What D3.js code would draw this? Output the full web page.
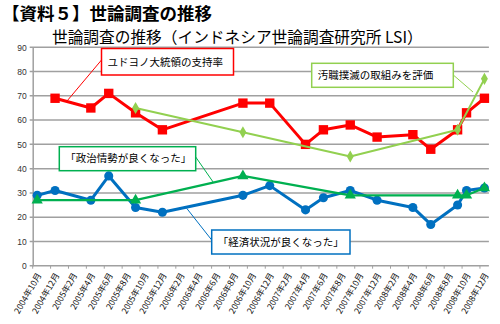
<!DOCTYPE html>
<html>
<head>
<meta charset="utf-8">
<script src="https://cdn.jsdelivr.net/npm/d3@7"></script>
<style>
  body { margin: 0; background: #fff; }
  svg { display: block; font-family: "Noto Sans CJK JP", "Noto Sans", sans-serif; }
</style>
</head>
<body>
<div id="chart"></div>
<script>
var width = 500, height = 324;

// tick labels on the x axis (every 2 months)
var tickLabels = ['2004年10月', '2004年12月', '2005年2月', '2005年4月', '2005年6月', '2005年8月',
  '2005年10月', '2005年12月', '2006年2月', '2006年4月', '2006年6月', '2006年8月', '2006年10月',
  '2006年12月', '2007年2月', '2007年4月', '2007年6月', '2007年8月', '2007年10月', '2007年12月',
  '2008年2月', '2008年4月', '2008年6月', '2008年8月', '2008年10月', '2008年12月'];

var yTicks = [0, 10, 20, 30, 40, 50, 60, 70, 80, 90];

// ユドヨノ大統領の支持率
var approvalDates = ['2004-12', '2005-04', '2005-06', '2005-09', '2005-12', '2006-09', '2006-12',
  '2007-04', '2007-06', '2007-09', '2007-12', '2008-04', '2008-06', '2008-09', '2008-10', '2008-12'];
var approvalValues = [69, 65, 71, 63, 56, 67, 67, 50, 56, 58, 53, 54, 48, 56, 63, 69];

// 「経済状況が良くなった」
var economyDates = ['2004-10', '2004-12', '2005-04', '2005-06', '2005-09', '2005-12', '2006-09', '2006-12',
  '2007-04', '2007-06', '2007-09', '2007-12', '2008-04', '2008-06', '2008-09', '2008-10', '2008-12'];
var economyValues = [29, 31, 27, 37, 24, 22, 29, 33, 23, 28, 31, 27, 24, 17, 25, 31, 32];

// 「政治情勢が良くなった」
var politicsDates = ['2004-10', '2005-09', '2006-09', '2007-09', '2008-09', '2008-10', '2008-12'];
var politicsValues = [27, 27, 37, 29, 29, 29, 32];

// 汚職撲滅の取組みを評価
var corruptionDates = ['2005-09', '2006-09', '2007-09', '2008-09', '2008-12'];
var corruptionValues = [65, 55, 45, 56, 77];

// months since 2004-10
var monthIndex = function(s) {
  var p = s.split('-');
  return (+p[0] - 2004) * 12 + (+p[1] - 10);
};

var makeSeries = function(dates, values) {
  return dates.map(function(d, i) { return { m: monthIndex(d), v: values[i] }; });
};

var svg = d3.select('#chart').append('svg')
  .attr('width', width)
  .attr('height', height);

var x = d3.scaleLinear().domain([-0.5, 50.5]).range([32.7, 488.9]);
var y = d3.scaleLinear().domain([0, 90]).range([265.7, 47.3]);

// titles
svg.append('text')
  .attr('x', 2).attr('y', 20)
  .attr('font-size', 17.5).attr('font-weight', 'bold')
  .text('【資料５】世論調査の推移');

svg.append('text')
  .attr('x', 52).attr('y', 43)
  .attr('font-size', 15.7)
  .text('世論調査の推移（インドネシア世論調査研究所 LSI）');

// gridlines
svg.append('g').selectAll('line')
  .data(yTicks)
  .enter().append('line')
  .attr('x1', x(-0.5) - 3).attr('x2', x(50.5))
  .attr('y1', function(d) { return y(d); })
  .attr('y2', function(d) { return y(d); })
  .attr('stroke', '#a0a0a0')
  .attr('stroke-width', 1.5);

// y axis
var yAxis = d3.axisLeft(y).tickValues(yTicks).tickSize(0).tickPadding(6);
var yg = svg.append('g').attr('transform', 'translate(' + x(-0.5) + ',0)').call(yAxis);
yg.select('.domain').attr('stroke', '#a0a0a0').attr('stroke-width', 1.5);
yg.selectAll('text').attr('font-size', 8.5).attr('fill', '#333').attr('font-family', 'Liberation Sans, sans-serif');

// x axis ticks (between months)
var tickPos = d3.range(26).map(function(k) { return -0.5 + 2 * k; });
svg.append('g').selectAll('line')
  .data(tickPos)
  .enter().append('line')
  .attr('x1', function(d) { return x(d); })
  .attr('x2', function(d) { return x(d); })
  .attr('y1', y(0)).attr('y2', y(0) + 3)
  .attr('stroke', '#a0a0a0').attr('stroke-width', 1);

svg.append('g').selectAll('text')
  .data(tickLabels)
  .enter().append('text')
  .attr('transform', function(d, i) { return 'translate(' + (x(2 * i) + 2) + ',' + (y(0) + 8) + ') rotate(-60)'; })
  .attr('text-anchor', 'end')
  .attr('dy', '0.35em')
  .attr('font-size', 8.5)
  .attr('fill', '#111')
  .text(function(d) { return d; });

var line = d3.line()
  .x(function(d) { return x(d.m); })
  .y(function(d) { return y(d.v); });

var drawSeries = function(data, color, lw, marker, size) {
  var g = svg.append('g');
  g.append('path')
    .datum(data)
    .attr('d', line)
    .attr('fill', 'none')
    .attr('stroke', color)
    .attr('stroke-width', lw)
    .attr('stroke-linejoin', 'round');
  g.selectAll('path.pt')
    .data(data)
    .enter().append('path')
    .attr('class', 'pt')
    .attr('transform', function(d) { return 'translate(' + x(d.m) + ',' + y(d.v) + ')'; })
    .attr('d', d3.symbol().type(marker).size(size))
    .attr('fill', color);
};

drawSeries(makeSeries(economyDates, economyValues), '#0070c0', 3, d3.symbolCircle, 65);
drawSeries(makeSeries(politicsDates, politicsValues), '#00b050', 2.2, d3.symbolTriangle, 55);
drawSeries(makeSeries(approvalDates, approvalValues), '#ff0000', 3, d3.symbolSquare, 88);
drawSeries(makeSeries(corruptionDates, corruptionValues), '#92d050', 2, d3.symbolDiamond, 42);

// callouts
var callouts = [
  { text: 'ユドヨノ大統領の支持率', c: '#ff0000', x: 101.5, y: 48.5, w: 132, h: 26.5, lx1: 101.5, ly1: 60, lx2: 67, ly2: 101 },
  { text: '汚職撲滅の取組みを評価', c: '#92d050', x: 311.7, y: 63.3, w: 141.6, h: 24, lx1: 453.3, ly1: 75, lx2: 473, ly2: 92 },
  { text: '「政治情勢が良くなった」', c: '#00b050', x: 59.3, y: 146.7, w: 136.4, h: 24, lx1: 195.7, ly1: 157, lx2: 213.3, ly2: 182.3 },
  { text: '「経済状況が良くなった」', c: '#0070c0', x: 211.7, y: 230, w: 138.3, h: 24, lx1: 186.7, ly1: 208.3, lx2: 211.7, ly2: 240 }
];

var cg = svg.append('g').selectAll('g')
  .data(callouts)
  .enter().append('g');

cg.append('line')
  .attr('x1', function(d) { return d.lx1; })
  .attr('y1', function(d) { return d.ly1; })
  .attr('x2', function(d) { return d.lx2; })
  .attr('y2', function(d) { return d.ly2; })
  .attr('stroke', function(d) { return d.c; })
  .attr('stroke-width', 1);

cg.append('rect')
  .attr('x', function(d) { return d.x; })
  .attr('y', function(d) { return d.y; })
  .attr('width', function(d) { return d.w; })
  .attr('height', function(d) { return d.h; })
  .attr('fill', '#fff')
  .attr('stroke', function(d) { return d.c; })
  .attr('stroke-width', 1.5);

cg.append('text')
  .attr('x', function(d) { return d.x + 6; })
  .attr('y', function(d) { return d.y + d.h / 2; })
  .attr('dy', '0.36em')
  .attr('font-size', 10.5)
  .attr('fill', '#000')
  .text(function(d) { return d.text; });
</script>
</body>
</html>
